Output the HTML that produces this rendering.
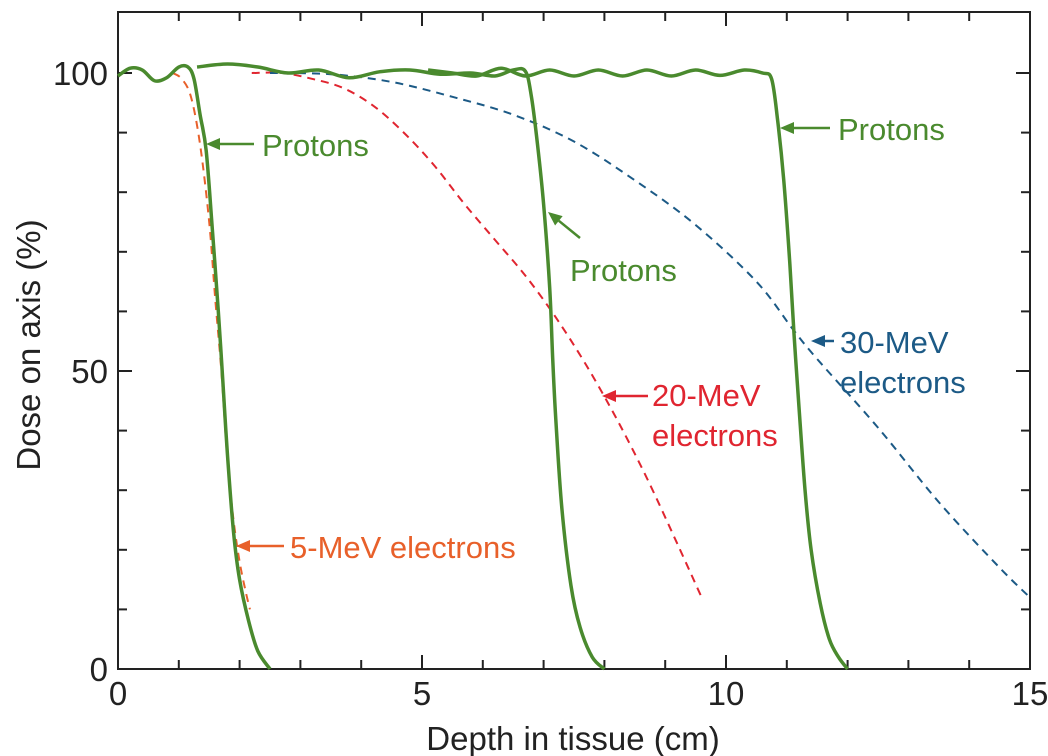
<!DOCTYPE html>
<html><head><meta charset="utf-8"><style>
html,body{margin:0;padding:0;background:#fff;}
svg{display:block;font-family:"Liberation Sans",Arial,sans-serif;}
</style></head><body>
<svg id="chart" width="1048" height="756" viewBox="0 0 1048 756">
<g id="axes"></g>
<g id="series"></g>
<g id="annot"></g>
</svg>
<script>
const xTicks=[0,5,10,15];
const yTicks=[0,50,100];
const proton1=[[0,99.5],[0.2,100.8],[0.4,100.5],[0.6,98.7],[0.8,99.2],[1.0,101],[1.15,101],[1.25,99],[1.35,93],[1.45,87],[1.55,74],[1.65,60],[1.72,49],[1.8,36],[1.9,23],[2.0,15],[2.15,8],[2.3,3],[2.5,0]];
const proton2=[[1.3,101],[1.8,101.5],[2.3,101],[2.8,100],[3.3,100.5],[3.8,99.2],[4.3,100.2],[4.8,100.5],[5.3,99.8],[5.8,100],[6.2,99.5],[6.5,100.5],[6.7,100.3],[6.8,96],[6.9,88],[7.0,78],[7.1,64],[7.15,52],[7.2,42],[7.3,27],[7.45,14],[7.6,7],[7.8,2],[8.0,0]];
const proton3=[[5.1,100.5],[5.5,100],[5.9,99.5],[6.3,100.8],[6.7,99.5],[7.1,100.5],[7.5,99.5],[7.9,100.5],[8.3,99.5],[8.7,100.5],[9.1,99.5],[9.5,100.5],[9.9,99.6],[10.3,100.5],[10.6,100],[10.75,99],[10.85,92],[10.95,82],[11.05,68],[11.12,56],[11.2,44],[11.3,30],[11.4,20],[11.55,11],[11.7,5],[11.85,2],[12.0,0]];
const e5=[[0.9,100],[1.05,99],[1.2,96],[1.35,88],[1.5,75],[1.6,62],[1.7,50],[1.8,35],[1.9,25],[2.0,18],[2.1,13],[2.17,10]];
const e20=[[2.2,100],[2.7,100],[3.2,99],[3.7,97.5],[4.2,94.5],[4.7,90],[5.2,84.5],[5.7,78],[6.2,72],[6.7,66],[7.2,59],[7.7,51],[8.2,42],[8.7,32],[9.2,21],[9.6,12]];
const e30=[[2.5,100],[3.5,99.8],[4.5,98.5],[5.5,96],[6.5,93],[7.5,88.5],[8.5,82],[9.5,74.5],[10.5,65],[11.1,57],[11.5,52],[12.5,40.5],[13.5,28],[14.5,17],[15,12]];

const X0=118,X1=1030,Y0=669,Ytop=12;
const sx=v=>X0+v*(X1-X0)/15;
const sy=v=>Y0-v*5.96;
const NS="http://www.w3.org/2000/svg";
function mk(tag,attrs,parent){const e=document.createElementNS(NS,tag);for(const k in attrs)e.setAttribute(k,attrs[k]);parent.appendChild(e);return e;}
const axes=document.getElementById('axes');
const frame=mk('rect',{x:X0,y:Ytop,width:X1-X0,height:Y0-Ytop,fill:'none',stroke:'#222','stroke-width':2},axes);


for(let i=1;i<15;i++){
  const L=(i%5===0)?14:9;
  const t1=mk('line',{x1:sx(i),x2:sx(i),y1:Y0,y2:Y0-L,stroke:'#222','stroke-width':2},axes);
  
  
  const t2=mk('line',{x1:sx(i),x2:sx(i),y1:Ytop,y2:Ytop+L,stroke:'#222','stroke-width':2},axes);
  
  
}
for(let v=10;v<=100;v+=10){
  const L=(v%50===0)?14:9;
  const t1=mk('line',{x1:X0,x2:X0+L,y1:sy(v),y2:sy(v),stroke:'#222','stroke-width':2},axes);
  
  
  const t2=mk('line',{x1:X1,x2:X1-L,y1:sy(v),y2:sy(v),stroke:'#222','stroke-width':2},axes);
  
  
}
xTicks.forEach(v=>{const t=mk('text',{x:sx(v),y:705,'font-size':33,'text-anchor':'middle',fill:'#222'},axes);t.textContent=v;

});
yTicks.forEach(v=>{const t=mk('text',{x:108,y:sy(v)+12,'font-size':33,'text-anchor':'end',fill:'#222'},axes);t.textContent=v;

});
const xt=mk('text',{x:573,y:750,'font-size':33,'text-anchor':'middle',fill:'#222'},axes);xt.textContent='Depth in tissue (cm)';


const yt=mk('text',{x:0,y:0,'font-size':33,'text-anchor':'middle',fill:'#222',transform:'translate(40,345) rotate(-90)'},axes);yt.textContent='Dose on axis (%)';



function pathD(pts){
  const p=pts.map(([a,b])=>[sx(a),sy(b)]);
  let d='M'+p[0][0]+','+p[0][1];
  for(let i=0;i<p.length-1;i++){
    const p0=p[Math.max(0,i-1)],p1=p[i],p2=p[i+1],p3=p[Math.min(p.length-1,i+2)];
    const c1=[p1[0]+(p2[0]-p0[0])/6,p1[1]+(p2[1]-p0[1])/6];
    const c2=[p2[0]-(p3[0]-p1[0])/6,p2[1]-(p3[1]-p1[1])/6];
    d+=` C${c1[0]},${c1[1]} ${c2[0]},${c2[1]} ${p2[0]},${p2[1]}`;
  }
  return d;
}
const series=document.getElementById('series');
function line(pts,color,dash,name,w){
  const a={d:pathD(pts),fill:'none',stroke:color,'stroke-width':w,'stroke-linejoin':'round'};
  if(dash)a['stroke-dasharray']=dash;
  const e=mk('path',a,series);
  
  
}
line(e5,'#e8602a','8,6','electrons-5mev-line',2);
line(e20,'#e02530','8,6','electrons-20mev-line',2);
line(e30,'#1c5a86','8,6','electrons-30mev-line',2);
line(proton1,'#4a8a2e',null,'protons-line-1',3.5);
line(proton2,'#4a8a2e',null,'protons-line-2',3.5);
line(proton3,'#4a8a2e',null,'protons-line-3',3.5);

const an=document.getElementById('annot');
function arrow(x1,y1,x2,y2,color,name){
  const g=mk('g',{},an);
  
  
  const ang=Math.atan2(y2-y1,x2-x1);
  const hx=x2-14*Math.cos(ang),hy=y2-14*Math.sin(ang);
  mk('line',{x1:x1,y1:y1,x2:hx,y2:hy,stroke:color,'stroke-width':2.5},g);
  const px=-Math.sin(ang)*6,py=Math.cos(ang)*6;
  mk('polygon',{points:`${x2},${y2} ${hx+px},${hy+py} ${hx-px},${hy-py}`,fill:color},g);
}
function label(x,y,txt,color,name){
  const t=mk('text',{x:x,y:y,'font-size':31,fill:color},an);t.textContent=txt;
  
  
}
arrow(254,144,206,144,'#4a8a2e','protons-arrow-1');label(262,156,'Protons','#4a8a2e','protons-label-1');
arrow(580,238,548,212,'#4a8a2e','protons-arrow-2');label(570,281,'Protons','#4a8a2e','protons-label-2');
arrow(830,128,780,128,'#4a8a2e','protons-arrow-3');label(838,140,'Protons','#4a8a2e','protons-label-3');
arrow(834,341,811,341,'#1c5a86','electrons-30mev-arrow');label(840,353,'30-MeV','#1c5a86','electrons-30mev-label');label(840,393,'electrons','#1c5a86','electrons-30mev-label-2');
arrow(648,396,602,396,'#e02530','electrons-20mev-arrow');label(652,406,'20-MeV','#e02530','electrons-20mev-label');label(652,446,'electrons','#e02530','electrons-20mev-label-2');
arrow(284,546,236,546,'#e8602a','electrons-5mev-arrow');label(290,558,'5-MeV electrons','#e8602a','electrons-5mev-label');
</script>
</body></html>
